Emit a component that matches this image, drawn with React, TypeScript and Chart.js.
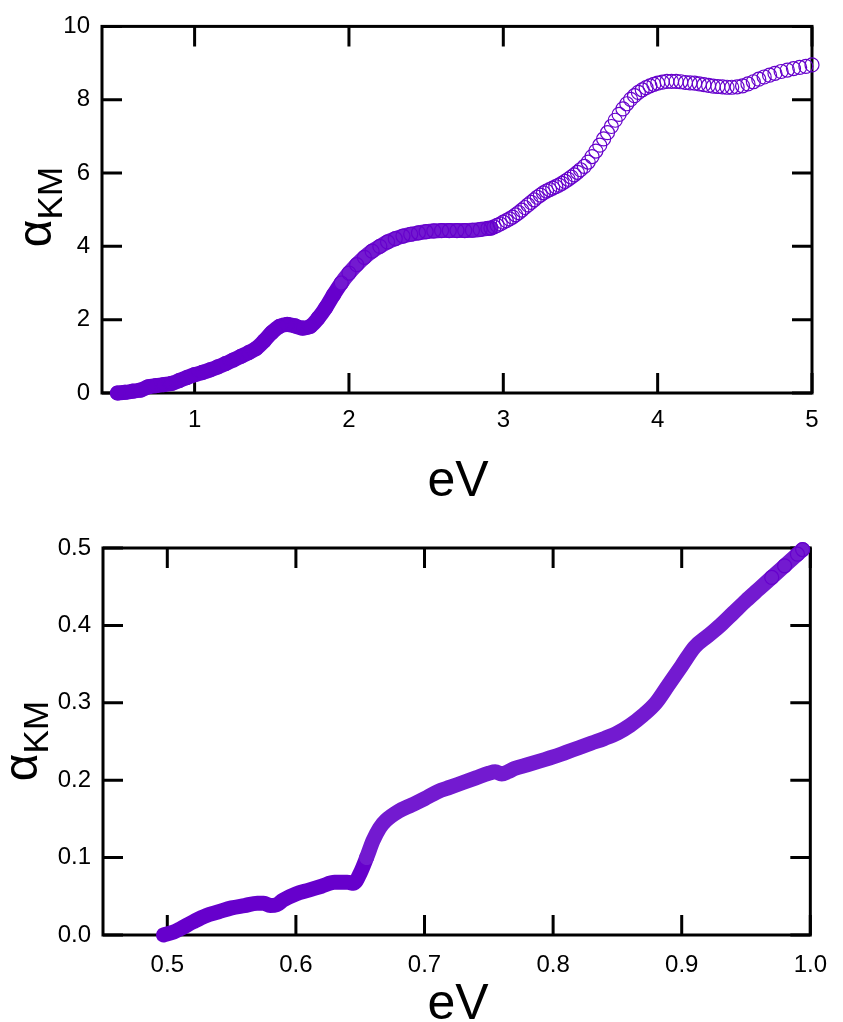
import React, { useEffect, useRef } from "react";
import { Chart, registerables } from "chart.js";

Chart.register(...registerables);

const FONT = "'Liberation Sans', Arial, Helvetica, sans-serif";
const PURPLE = "#6600cc";
const PURPLE_SOFT = "#731ad0";

// ---------- top panel (0.4 – 5 eV) ----------
const topEnergy = [
  0.5, 0.55, 0.6, 0.65, 0.7, 0.75, 0.8, 0.85, 0.9, 0.95,
  1.0, 1.05, 1.1, 1.15, 1.2, 1.25, 1.3, 1.35, 1.4, 1.45,
  1.5, 1.55, 1.6, 1.65, 1.7, 1.75, 1.8, 1.85, 1.9, 1.95,
  2.0, 2.05, 2.1, 2.15, 2.2, 2.25, 2.3, 2.35, 2.4, 2.45,
  2.5, 2.55, 2.6, 2.65, 2.7, 2.75, 2.8, 2.85, 2.9,
  2.92, 2.94, 2.96, 2.98, 3.0, 3.02, 3.04, 3.06, 3.08, 3.1,
  3.12, 3.14, 3.16, 3.18, 3.2, 3.22, 3.24, 3.26, 3.28, 3.3,
  3.32, 3.34, 3.36, 3.38, 3.4, 3.42, 3.44, 3.46, 3.48, 3.5,
  3.525, 3.55, 3.575, 3.6, 3.625, 3.65, 3.675, 3.7, 3.725, 3.75,
  3.775, 3.8, 3.825, 3.85, 3.875, 3.9, 3.925, 3.95, 3.975, 4.0,
  4.03, 4.06, 4.09, 4.12, 4.15, 4.18, 4.21, 4.24, 4.27, 4.3,
  4.33, 4.36, 4.39, 4.42, 4.45, 4.48, 4.515, 4.55, 4.585, 4.62,
  4.655, 4.69, 4.725, 4.76, 4.8, 4.84, 4.88, 4.92, 4.96, 5.0,
];
const topAlpha = [
  0.0, 0.02, 0.05, 0.08, 0.17, 0.2, 0.23, 0.26, 0.34, 0.42,
  0.5, 0.56, 0.63, 0.71, 0.8, 0.9, 1.0, 1.1, 1.22, 1.42,
  1.65, 1.82, 1.87, 1.83, 1.77, 1.82, 2.04, 2.33, 2.68, 3.0,
  3.27, 3.5, 3.7, 3.87, 4.0, 4.12, 4.21, 4.28, 4.33, 4.37,
  4.4, 4.42, 4.43, 4.43, 4.43, 4.43, 4.44, 4.46, 4.49,
  4.5, 4.53, 4.57, 4.61, 4.66, 4.7, 4.75, 4.8, 4.86, 4.92,
  4.99, 5.06, 5.13, 5.2, 5.27, 5.34, 5.4, 5.46, 5.51, 5.55,
  5.59, 5.63, 5.67, 5.72, 5.77, 5.83, 5.89, 5.95, 6.02, 6.09,
  6.18, 6.3, 6.45, 6.6, 6.76, 6.93, 7.1, 7.27, 7.44, 7.6,
  7.75, 7.89, 8.01, 8.11, 8.2, 8.27, 8.33, 8.38, 8.42, 8.45,
  8.48, 8.5, 8.5, 8.5, 8.49, 8.47, 8.46, 8.45, 8.43, 8.41,
  8.39, 8.37, 8.36, 8.35, 8.34, 8.34, 8.35, 8.38, 8.43, 8.49,
  8.56, 8.62, 8.67, 8.72, 8.77, 8.81, 8.85, 8.88, 8.91, 8.95,
];
const topXTicks = [1, 2, 3, 4, 5];
const topXLabels = ["1", "2", "3", "4", "5"];
const topYTicks = [0, 2, 4, 6, 8, 10];
const topYLabels = ["0", "2", "4", "6", "8", "10"];

// ---------- bottom panel (0.45 – 1.0 eV) ----------
const bottomEnergy = [
  0.497, 0.505, 0.51, 0.52, 0.53, 0.54, 0.55, 0.56, 0.57, 0.575,
  0.58, 0.585, 0.59, 0.6, 0.61, 0.62, 0.63, 0.64, 0.645, 0.65,
  0.655, 0.66, 0.665, 0.67, 0.68, 0.69, 0.7, 0.71, 0.72, 0.73,
  0.74, 0.75, 0.755, 0.76, 0.765, 0.77, 0.78, 0.79, 0.8, 0.81,
  0.82, 0.83, 0.84, 0.85, 0.86, 0.87, 0.88, 0.89, 0.9, 0.91,
  0.92, 0.93, 0.94, 0.95, 0.96, 0.97, 0.98, 0.99, 0.994,
];
const bottomAlpha = [
  0.0, 0.004, 0.008, 0.017, 0.025, 0.03, 0.035, 0.038, 0.041, 0.041,
  0.038, 0.039, 0.045, 0.053, 0.058, 0.063, 0.068, 0.068, 0.067, 0.08,
  0.1, 0.122, 0.138, 0.148, 0.16, 0.168, 0.176, 0.185, 0.191, 0.197,
  0.203, 0.209, 0.211, 0.208, 0.211, 0.215, 0.22, 0.225, 0.23, 0.236,
  0.242, 0.248, 0.254, 0.261, 0.271, 0.284, 0.3, 0.324, 0.348, 0.372,
  0.386, 0.4, 0.416, 0.432, 0.447, 0.462, 0.477, 0.492, 0.498,
];
const bottomXTicks = [0.5, 0.6, 0.7, 0.8, 0.9, 1.0];
const bottomXLabels = ["0.5", "0.6", "0.7", "0.8", "0.9", "1.0"];
const bottomYTicks = [0, 0.1, 0.2, 0.3, 0.4, 0.5];
const bottomYLabels = ["0.0", "0.1", "0.2", "0.3", "0.4", "0.5"];

const X_TITLE = "eV";
const Y_TITLE = "α";
const Y_TITLE_SUB = "KM";

const frameTicksPlugin = {
  id: "frameTicks",
  beforeDatasetsDraw(chart: any, _args: any, opts: any) {
    const { ctx, chartArea } = chart;
    const { left, right, top, bottom } = chartArea;
    const xs = chart.scales.x;
    const ys = chart.scales.y;
    const L = opts.tickLen;
    ctx.save();
    ctx.strokeStyle = "#000";
    ctx.lineWidth = 3;
    ctx.lineCap = "butt";
    ctx.lineJoin = "miter";
    ctx.strokeRect(left, top, right - left, bottom - top);
    ctx.beginPath();
    xs.ticks.forEach((t: any) => {
      const px = xs.getPixelForValue(t.value);
      ctx.moveTo(px, bottom);
      ctx.lineTo(px, bottom - L);
      ctx.moveTo(px, top);
      ctx.lineTo(px, top + L);
    });
    ys.ticks.forEach((t: any) => {
      const py = ys.getPixelForValue(t.value);
      ctx.moveTo(left, py);
      ctx.lineTo(left + L, py);
      ctx.moveTo(right, py);
      ctx.lineTo(right - L, py);
    });
    ctx.stroke();
    ctx.restore();
  },
  afterDraw(chart: any, _args: any, opts: any) {
    const ctx = chart.ctx;
    ctx.save();
    ctx.fillStyle = "#000";
    ctx.font = `${opts.xTitleSize}px ${FONT}`;
    ctx.textAlign = "center";
    ctx.textBaseline = "alphabetic";
    ctx.fillText(X_TITLE, opts.xTitleX, opts.xTitleY);

    ctx.translate(opts.yTitleX, opts.yTitleY);
    ctx.rotate(-Math.PI / 2);
    ctx.font = `${opts.yTitleSize}px ${FONT}`;
    const wa = ctx.measureText(Y_TITLE).width;
    ctx.font = `${opts.ySubSize}px ${FONT}`;
    const wk = ctx.measureText(Y_TITLE_SUB).width;
    const start = -(wa + wk) / 2;
    ctx.textAlign = "left";
    ctx.font = `${opts.yTitleSize}px ${FONT}`;
    ctx.fillText(Y_TITLE, start, 0);
    ctx.font = `${opts.ySubSize}px ${FONT}`;
    ctx.fillText(Y_TITLE_SUB, start + wa, opts.ySubShift);
    ctx.restore();
  },
};

type PanelSpec = {
  energy: number[];
  alpha: number[];
  bandEnd: number;
  softFrom: number;
  ringFrom: number;
  xMin: number;
  xMax: number;
  yMin: number;
  yMax: number;
  xTicks: number[];
  xLabels: string[];
  yTicks: number[];
  yLabels: string[];
  padRight: number;
  padTop: number;
  yAxisWidth: number;
  xAxisHeight: number;
  xLabelPad: number;
  titles: any;
};

function buildConfig(p: PanelSpec): any {
  const points = p.energy.map((e, i) => ({ x: e, y: p.alpha[i] }));
  const band = points.filter((pt) => pt.x <= p.bandEnd);
  const rings = points.filter((pt) => pt.x >= p.ringFrom);
  return {
    type: "scatter",
    data: {
      datasets: [
        {
          data: rings,
          showLine: false,
          pointStyle: "circle",
          pointRadius: 7,
          pointBorderWidth: 1.2,
          pointBackgroundColor: "rgba(0,0,0,0)",
          pointBorderColor: PURPLE,
          clip: false,
        },
        {
          data: band,
          showLine: true,
          borderColor: PURPLE,
          borderWidth: 15,
          borderCapStyle: "round",
          borderJoinStyle: "round",
          cubicInterpolationMode: "monotone",
          pointRadius: 0,
          clip: false,
          segment: {
            borderColor: (c: any) => (c.p0.parsed.x >= p.softFrom ? PURPLE_SOFT : PURPLE),
          },
        },
      ],
    },
    options: {
      animation: false,
      responsive: false,
      maintainAspectRatio: false,
      events: [],
      layout: { padding: { left: 0, right: p.padRight, top: p.padTop, bottom: 0 } },
      plugins: {
        legend: { display: false },
        tooltip: { enabled: false },
        frameTicks: p.titles,
      },
      scales: {
        x: {
          type: "linear",
          min: p.xMin,
          max: p.xMax,
          grid: { display: false, drawTicks: false },
          border: { display: false },
          ticks: {
            autoSkip: false,
            maxRotation: 0,
            padding: p.xLabelPad,
            color: "#000",
            font: { family: FONT, size: 24 },
            callback: (_v: any, i: number) => p.xLabels[i],
          },
          afterBuildTicks: (s: any) => {
            s.ticks = p.xTicks.map((v) => ({ value: v }));
          },
          afterFit: (s: any) => {
            s.height = p.xAxisHeight;
          },
        },
        y: {
          type: "linear",
          min: p.yMin,
          max: p.yMax,
          grid: { display: false, drawTicks: false },
          border: { display: false },
          ticks: {
            autoSkip: false,
            padding: 12,
            color: "#000",
            font: { family: FONT, size: 24 },
            callback: (_v: any, i: number) => p.yLabels[i],
          },
          afterBuildTicks: (s: any) => {
            s.ticks = p.yTicks.map((v) => ({ value: v }));
          },
          afterFit: (s: any) => {
            s.width = p.yAxisWidth;
          },
        },
      },
    },
    plugins: [frameTicksPlugin],
  };
}

const TOP_H = 500;
const BOTTOM_H = 522;

const topSpec: PanelSpec = {
  energy: topEnergy,
  alpha: topAlpha,
  bandEnd: 2.92,
  softFrom: 1.95,
  ringFrom: 0,
  xMin: 0.4,
  xMax: 5,
  yMin: 0,
  yMax: 10,
  xTicks: topXTicks,
  xLabels: topXLabels,
  yTicks: topYTicks,
  yLabels: topYLabels,
  padRight: 843 - 812,
  padTop: 25,
  yAxisWidth: 102,
  xAxisHeight: TOP_H - 393,
  xLabelPad: 13,
  titles: {
    tickLen: 20,
    xTitleSize: 50,
    xTitleX: 458,
    xTitleY: 496,
    yTitleSize: 48,
    ySubSize: 35,
    ySubShift: 11,
    yTitleX: 51,
    yTitleY: 207,
  },
};

const bottomSpec: PanelSpec = {
  energy: bottomEnergy,
  alpha: bottomAlpha,
  bandEnd: 1.0,
  softFrom: 0.655,
  ringFrom: 0.97,
  xMin: 0.45,
  xMax: 1.0,
  yMin: 0,
  yMax: 0.5,
  xTicks: bottomXTicks,
  xLabels: bottomXLabels,
  yTicks: bottomYTicks,
  yLabels: bottomYLabels,
  padRight: 843 - 823,
  padTop: 548 - TOP_H,
  yAxisWidth: 103,
  xAxisHeight: BOTTOM_H - (935 - TOP_H),
  xLabelPad: 16,
  titles: {
    tickLen: 20,
    xTitleSize: 50,
    xTitleX: 458,
    xTitleY: 1019 - TOP_H,
    yTitleSize: 48,
    ySubSize: 35,
    ySubShift: 11,
    yTitleX: 37,
    yTitleY: 741 - TOP_H,
  },
};

function Panel({ spec, top, height }: { spec: PanelSpec; top: number; height: number }) {
  const ref = useRef<HTMLCanvasElement>(null);
  useEffect(() => {
    if (!ref.current) return;
    const chart = new Chart(ref.current, buildConfig(spec));
    return () => chart.destroy();
  }, [spec]);
  return (
    <canvas
      ref={ref}
      width={843}
      height={height}
      style={{ position: "absolute", left: 0, top, width: 843, height, display: "block" }}
    />
  );
}

export default function App() {
  return (
    <div style={{ position: "absolute", left: 0, top: 0, width: 843, height: 1022, background: "#fff" }}>
      <Panel spec={topSpec} top={0} height={TOP_H} />
      <Panel spec={bottomSpec} top={TOP_H} height={BOTTOM_H} />
    </div>
  );
}
